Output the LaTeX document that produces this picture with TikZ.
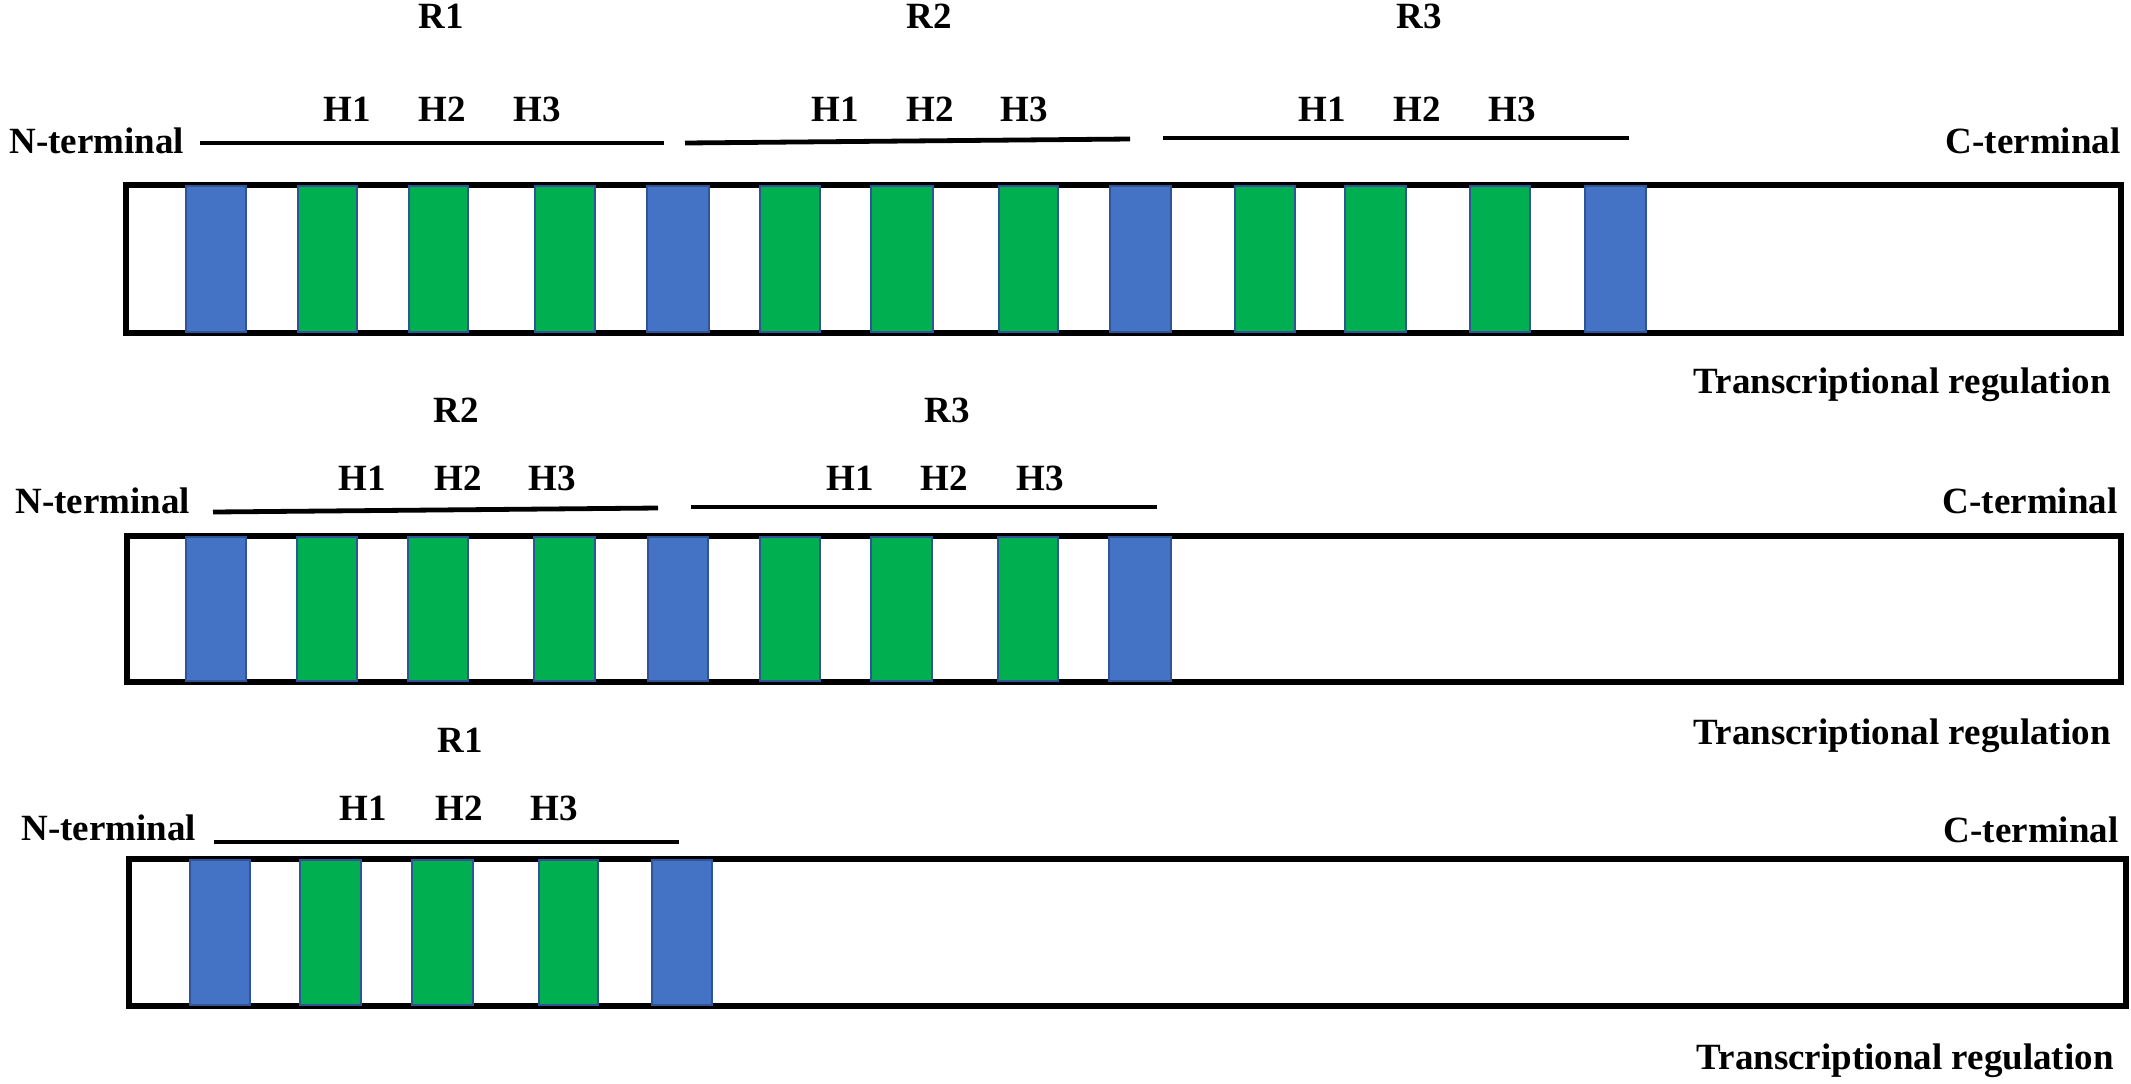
\documentclass[tikz,border=0pt]{standalone}
\usepackage{fontspec}
\setmainfont{Liberation Serif}
\definecolor{barblue}{HTML}{4472C4}
\definecolor{bargreen}{HTML}{00B050}
\definecolor{baredge}{HTML}{2F5597}
\begin{document}
\begin{tikzpicture}[x=0.5pt,y=-0.5pt,
  lbl/.style={inner sep=0pt, font=\fontsize{18.5}{22}\selectfont\bfseries},
  protbox/.style={draw=black, line width=2.8pt},
  rline/.style={draw=black, line width=2.4pt},
  bbar/.style={fill=barblue, draw=baredge, line width=0.6pt},
  gbar/.style={fill=bargreen, draw=baredge, line width=0.6pt}]
\useasboundingbox (0,0) rectangle (2131,1083);

% ---------------- Panel 1 ----------------
\draw[protbox] (126,185) rectangle (2121,333);
\foreach \a/\b in {186/246,647/709,1110/1171,1585/1646}
  \path[bbar] (\a,186) rectangle (\b,332);
\foreach \a/\b in {298/357,409/468,535/595,760/820,871/933,999/1058,1235/1295,1345/1406,1470/1530}
  \path[gbar] (\a,186) rectangle (\b,332);
\node[lbl, anchor=base west] (n1) at (9,153) {N-terminal};
\node[lbl, anchor=base east] (c1) at (2121,153) {C-terminal};
\node[lbl, anchor=base east] (t1) at (2111,393) {Transcriptional regulation};
\coordinate (l1a) at (200,143); \coordinate (l1b) at (664,143);
\coordinate (l2a) at (685,143); \coordinate (l2b) at (1130,139);
\coordinate (l3a) at (1163,138); \coordinate (l3b) at (1629,138);
\draw[rline] (l1a) -- (l1b);
\draw[rline] (l2a) -- (l2b);
\draw[rline] (l3a) -- (l3b);
\node[lbl, anchor=base] (p1r1) at (441,28) {R1};
\node[lbl, anchor=base] (p1r2) at (929,28) {R2};
\node[lbl, anchor=base] (p1r3) at (1419,28) {R3};
\node[lbl, anchor=base] (p1a1) at (347,121) {H1};
\node[lbl, anchor=base] (p1a2) at (442,121) {H2};
\node[lbl, anchor=base] (p1a3) at (537,121) {H3};
\node[lbl, anchor=base] (p1b1) at (835,121) {H1};
\node[lbl, anchor=base] (p1b2) at (930,121) {H2};
\node[lbl, anchor=base] (p1b3) at (1024,121) {H3};
\node[lbl, anchor=base] (p1c1) at (1322,121) {H1};
\node[lbl, anchor=base] (p1c2) at (1417,121) {H2};
\node[lbl, anchor=base] (p1c3) at (1512,121) {H3};

% ---------------- Panel 2 ----------------
\draw[protbox] (127,536) rectangle (2121,682);
\foreach \a/\b in {186/246,648/708,1109/1171}
  \path[bbar] (\a,537) rectangle (\b,681);
\foreach \a/\b in {297/357,408/468,534/595,760/820,871/932,998/1058}
  \path[gbar] (\a,537) rectangle (\b,681);
\node[lbl, anchor=base west] (n2) at (15,513) {N-terminal};
\node[lbl, anchor=base east] (c2) at (2118,513) {C-terminal};
\node[lbl, anchor=base east] (t2) at (2111,744) {Transcriptional regulation};
\coordinate (m1a) at (213,512); \coordinate (m1b) at (658,508);
\coordinate (m2a) at (691,507); \coordinate (m2b) at (1157,507);
\draw[rline] (m1a) -- (m1b);
\draw[rline] (m2a) -- (m2b);
\node[lbl, anchor=base] (p2r2) at (456,422) {R2};
\node[lbl, anchor=base] (p2r3) at (947,422) {R3};
\node[lbl, anchor=base] (p2a1) at (362,490) {H1};
\node[lbl, anchor=base] (p2a2) at (458,490) {H2};
\node[lbl, anchor=base] (p2a3) at (552,490) {H3};
\node[lbl, anchor=base] (p2b1) at (850,490) {H1};
\node[lbl, anchor=base] (p2b2) at (944,490) {H2};
\node[lbl, anchor=base] (p2b3) at (1040,490) {H3};

% ---------------- Panel 3 ----------------
\draw[protbox] (129,859) rectangle (2126,1006);
\foreach \a/\b in {190/250,652/712}
  \path[bbar] (\a,860) rectangle (\b,1005);
\foreach \a/\b in {300/361,412/473,539/598}
  \path[gbar] (\a,860) rectangle (\b,1005);
\node[lbl, anchor=base west] (n3) at (21,840) {N-terminal};
\node[lbl, anchor=base east] (c3) at (2119,842) {C-terminal};
\node[lbl, anchor=base east] (t3) at (2114,1069) {Transcriptional regulation};
\coordinate (k1a) at (214,842); \coordinate (k1b) at (679,842);
\draw[rline] (k1a) -- (k1b);
\node[lbl, anchor=base] (p3r1) at (460,752) {R1};
\node[lbl, anchor=base] (p3a1) at (363,820) {H1};
\node[lbl, anchor=base] (p3a2) at (459,820) {H2};
\node[lbl, anchor=base] (p3a3) at (554,820) {H3};
\end{tikzpicture}
\end{document}
